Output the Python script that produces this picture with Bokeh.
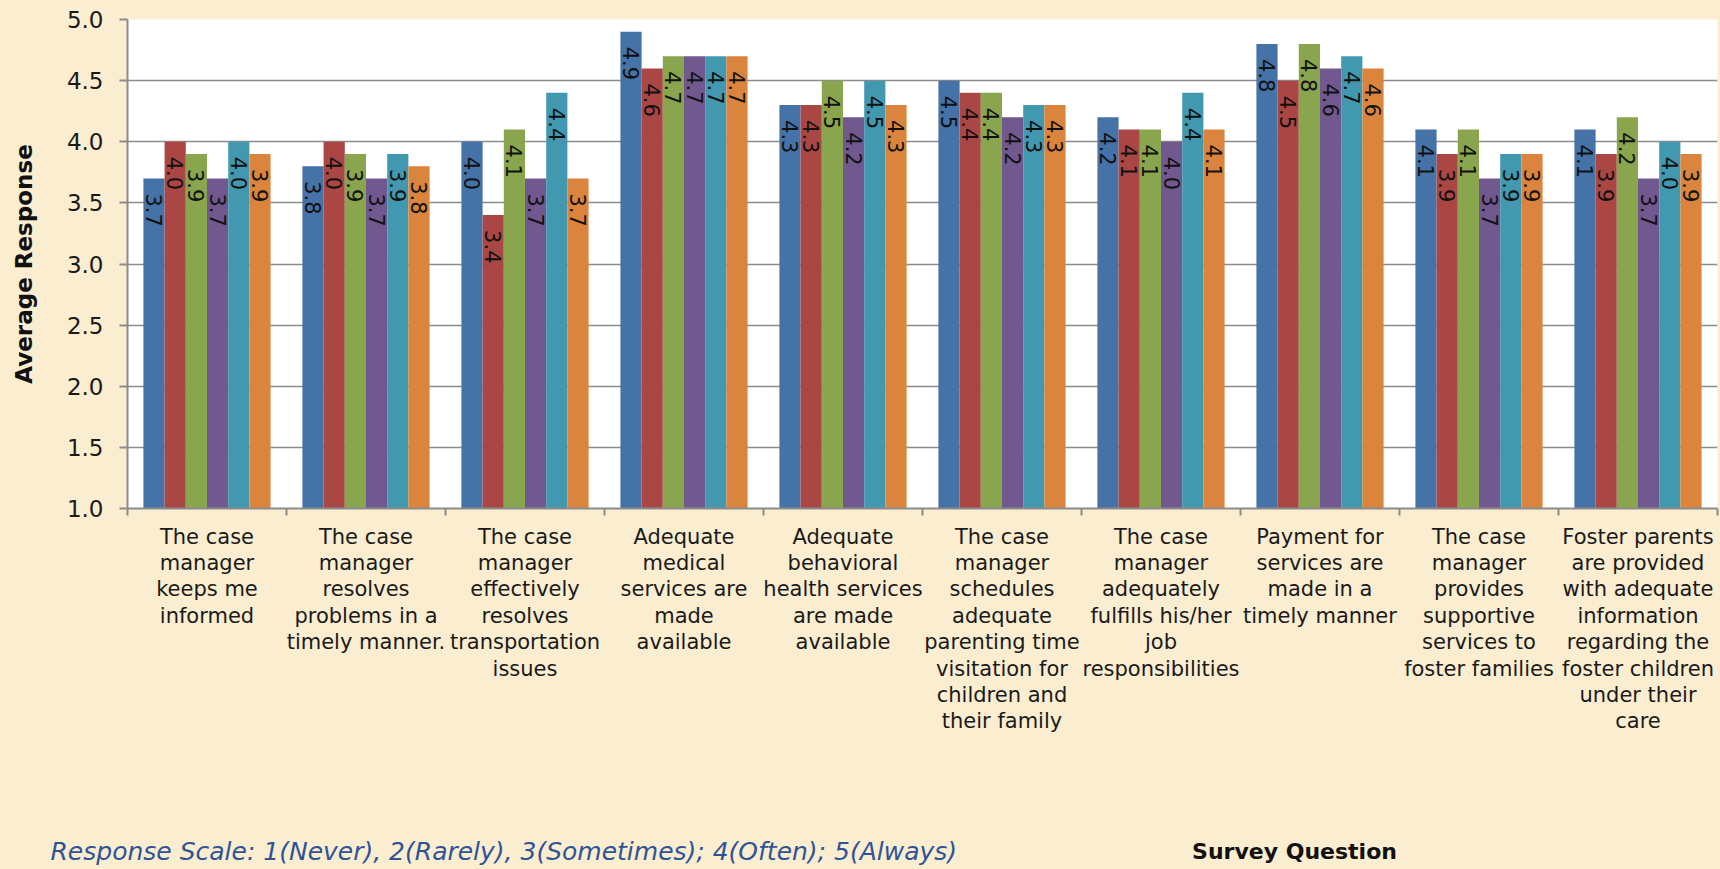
import math

from bokeh.core.properties import value
from bokeh.embed import file_html
from bokeh.layouts import column
from bokeh.models import (ColumnDataSource, FixedTicker, LinearAxis,
                          PrintfTickFormatter, Range1d)
from bokeh.plotting import figure
from bokeh.resources import INLINE
from bokeh.transform import dodge

# ---- data -------------------------------------------------------------
question_keys = ["Q1", "Q2", "Q3", "Q4", "Q5", "Q6", "Q7", "Q8", "Q9", "Q10"]

question_labels = [
    "The case\nmanager\nkeeps me\ninformed",
    "The case\nmanager\nresolves\nproblems in a\ntimely manner.",
    "The case\nmanager\neffectively\nresolves\ntransportation\nissues",
    "Adequate\nmedical\nservices are\nmade\navailable",
    "Adequate\nbehavioral\nhealth services\nare made\navailable",
    "The case\nmanager\nschedules\nadequate\nparenting time\nvisitation for\nchildren and\ntheir family",
    "The case\nmanager\nadequately\nfulfills his/her\njob\nresponsibilities",
    "Payment for\nservices are\nmade in a\ntimely manner",
    "The case\nmanager\nprovides\nsupportive\nservices to\nfoster families",
    "Foster parents\nare provided\nwith adequate\ninformation\nregarding the\nfoster children\nunder their\ncare",
]

group_1 = [3.7, 3.8, 4.0, 4.9, 4.3, 4.5, 4.2, 4.8, 4.1, 4.1]
group_2 = [4.0, 4.0, 3.4, 4.6, 4.3, 4.4, 4.1, 4.5, 3.9, 3.9]
group_3 = [3.9, 3.9, 4.1, 4.7, 4.5, 4.4, 4.1, 4.8, 4.1, 4.2]
group_4 = [3.7, 3.7, 3.7, 4.7, 4.2, 4.2, 4.0, 4.6, 3.7, 3.7]
group_5 = [4.0, 3.9, 4.4, 4.7, 4.5, 4.3, 4.4, 4.7, 3.9, 4.0]
group_6 = [3.9, 3.8, 3.7, 4.7, 4.3, 4.3, 4.1, 4.6, 3.9, 3.9]

series = [group_1, group_2, group_3, group_4, group_5, group_6]
colors = ["#4572A7", "#AA4643", "#89A54E", "#71588F", "#4198AF", "#DB843D"]

y_ticks = [1.0, 1.5, 2.0, 2.5, 3.0, 3.5, 4.0, 4.5, 5.0]

scale_note = "Response Scale:  1(Never), 2(Rarely), 3(Sometimes); 4(Often); 5(Always)"
x_title = "Survey Question"
y_title = "Average Response"

# ---- styling constants ---------------------------------------------
FONT = "DejaVu Sans"
PAGE_BG = "#FAEDD0"
GRID = "#8C8C8C"
INK = "#1A1A1A"

W = 1720
CHART_H = 829      # main chart
NOTE_H = 40        # strip underneath for the scale note and x title

n = len(question_keys)
centers = [i + 0.5 for i in range(n)]      # one unit slot per question
bounds = list(range(n + 1))

data = {"q": question_keys, "pos": centers}
for j, vals in enumerate(series):
    data[f"s{j}"] = vals
    data[f"t{j}"] = [f"{v:.1f}" for v in vals]
source = ColumnDataSource(data)

p = figure(
    width=W, height=CHART_H,
    x_range=Range1d(0, n),
    y_range=Range1d(1.0, 5.0),
    x_axis_location=None,
    output_backend="svg", toolbar_location=None,
    min_border_left=127, min_border_right=3,
    min_border_top=19, min_border_bottom=CHART_H - 508,
)
p.background_fill_color = "white"
p.border_fill_color = PAGE_BG
p.outline_line_color = None
p.xgrid.grid_line_color = None
p.ygrid.grid_line_color = GRID
p.ygrid.grid_line_width = 1.5

# y axis
yax = p.yaxis[0]
yax.ticker = FixedTicker(ticks=y_ticks)
yax.formatter = PrintfTickFormatter(format="%.1f")
yax.axis_line_color = GRID
yax.axis_line_width = 2
yax.major_tick_line_color = GRID
yax.major_tick_line_width = 2
yax.major_tick_out = 8
yax.major_tick_in = 0
yax.minor_tick_line_color = None
yax.major_label_standoff = 16
yax.major_label_text_font = FONT
yax.major_label_text_font_size = "23px"
yax.major_label_text_color = INK
yax.axis_label = y_title
yax.axis_label_text_font = FONT
yax.axis_label_text_font_size = "23px"
yax.axis_label_text_font_style = "bold"
yax.axis_label_text_color = "#111111"
yax.axis_label_standoff = 27

# x axis: ticks on the slot boundaries, question text at the slot centers
xax = LinearAxis(
    ticker=FixedTicker(ticks=centers, minor_ticks=bounds),
    major_label_overrides={c: lab for c, lab in zip(centers, question_labels)},
)
xax.axis_line_color = GRID
xax.axis_line_width = 2
xax.major_tick_line_color = None
xax.major_tick_out = 0
xax.major_tick_in = 0
xax.minor_tick_line_color = GRID
xax.minor_tick_line_width = 2
xax.minor_tick_out = 7
xax.minor_tick_in = 0
xax.major_label_standoff = 9
xax.major_label_text_font = FONT
xax.major_label_text_font_size = "21px"
xax.major_label_text_color = INK
xax.major_label_text_line_height = 1.1
p.add_layout(xax, "below")

# bars and value labels
bar_w = 0.8 / len(series)
for j, col in enumerate(colors):
    off = -0.4 + bar_w * (j + 0.5)
    xs = dodge("pos", off)
    p.vbar(x=xs, top=f"s{j}", bottom=1.0, width=bar_w, source=source,
           fill_color=col, line_color=None)
    p.text(x=xs, y=f"s{j}", text=f"t{j}", source=source,
           angle=-math.pi / 2, text_align="left", text_baseline="middle",
           y_offset=15, text_font=value(FONT), text_font_size="21px",
           text_color="#111111")

# bottom strip: response-scale note on the left, x title on the right
note = figure(
    width=W, height=NOTE_H,
    x_range=Range1d(0, W), y_range=Range1d(0, NOTE_H),
    x_axis_location=None, y_axis_location=None,
    output_backend="svg", toolbar_location=None,
    min_border=0,
)
# keep this strip's frame independent of the chart frame above it
for fig in (p, note):
    if "frame_align" in fig.properties():
        fig.frame_align = False
note.background_fill_color = PAGE_BG
note.border_fill_color = PAGE_BG
note.outline_line_color = None
note.grid.grid_line_color = None
note.text(x=[50], y=[18], text=[scale_note], text_align="left",
          text_baseline="middle", text_font=value(FONT),
          text_font_size="25px", text_font_style="italic",
          text_color="#2F5496")
note.text(x=[1294], y=[18], text=[x_title], text_align="center",
          text_baseline="middle", text_font=value(FONT),
          text_font_size="22px", text_font_style="bold",
          text_color="#111111")

page = column(p, note, spacing=0, styles={"background-color": PAGE_BG})
open("out.html", "w").write(file_html(page, INLINE))
